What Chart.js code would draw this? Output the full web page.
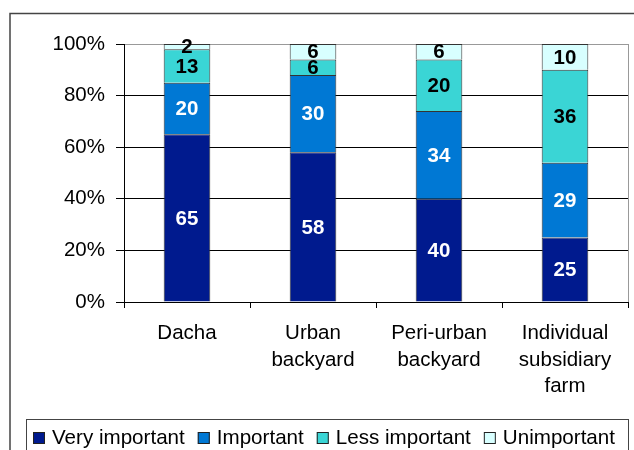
<!DOCTYPE html>
<html>
<head>
<meta charset="utf-8">
<script src="https://cdn.jsdelivr.net/npm/chart.js@4/dist/chart.umd.min.js"></script>
<style>
  html, body { margin: 0; padding: 0; background: #fff; }
  #wrap { width: 634px; height: 450px; }
</style>
</head>
<body>
<div id="wrap"><canvas id="chart" width="634" height="450"></canvas></div>
<script>
// Chart values
const categories = ['Dacha', ['Urban', 'backyard'], ['Peri-urban', 'backyard'], ['Individual', 'subsidiary', 'farm']];
const seriesNames = ['Very important', 'Important', 'Less important', 'Unimportant'];
const veryImportant = [65, 58, 40, 25];
const important = [20, 30, 34, 29];
const lessImportant = [13, 6, 20, 36];
const unimportant = [2, 6, 6, 10];
const yTicks = [0, 20, 40, 60, 80, 100];

const colors = ['#001A8E', '#0078D4', '#3AD5D5', '#D8FFFF'];
const labelColors = ['#fff', '#fff', '#000', '#000'];
const FONT = '"Liberation Sans", Arial, sans-serif';

// Draws the value inside each bar segment
const valueLabels = {
    id: 'valueLabels',
    afterDatasetsDraw(chart) {
        const ctx = chart.ctx;
        ctx.save();
        ctx.font = 'bold 20.5px ' + FONT;
        ctx.textAlign = 'center';
        ctx.textBaseline = 'middle';
        chart.data.datasets.forEach(function(ds, i) {
            chart.getDatasetMeta(i).data.forEach(function(bar, j) {
                ctx.fillStyle = labelColors[i];
                ctx.fillText(String(ds.data[j]), bar.x, (bar.y + bar.base) / 2 + 1);
            });
        });
        ctx.restore();
    }
};

// Outer frame, plot border on the right, and the boxed legend
const frame = {
    id: 'frame',
    afterDraw(chart) {
        const ctx = chart.ctx;
        const area = chart.chartArea;
        ctx.save();
        ctx.strokeStyle = '#444';
        ctx.lineWidth = 1.5;
        ctx.beginPath();
        ctx.moveTo(10, 460);
        ctx.lineTo(10, 13.5);
        ctx.lineTo(640, 13.5);
        ctx.stroke();

        ctx.strokeStyle = '#999';
        ctx.lineWidth = 1;
        ctx.beginPath();
        ctx.moveTo(area.right + 0.5, area.top);
        ctx.lineTo(area.right + 0.5, area.bottom);
        ctx.stroke();

        // legend
        ctx.strokeStyle = '#444';
        ctx.strokeRect(26.5, 419.5, 602, 40);
        ctx.font = '20.6px ' + FONT;
        ctx.textBaseline = 'middle';
        ctx.textAlign = 'left';
        let x = 33;
        const y = 438;
        chart.data.datasets.forEach(function(ds) {
            ctx.fillStyle = ds.backgroundColor;
            ctx.fillRect(x, y - 6, 12, 12);
            ctx.strokeStyle = '#222';
            ctx.strokeRect(x + 0.5, y - 5.5, 11, 11);
            ctx.fillStyle = '#000';
            ctx.fillText(ds.label, x + 19, y);
            x += 19 + ctx.measureText(ds.label).width + 13;
        });
        ctx.restore();
    }
};

const seriesData = [veryImportant, important, lessImportant, unimportant];

new Chart(document.getElementById('chart'), {
    type: 'bar',
    data: {
        labels: categories,
        datasets: seriesNames.map(function(name, i) {
            return {
                label: name,
                data: seriesData[i],
                backgroundColor: colors[i],
                borderColor: '#333',
                borderWidth: 1,
                barPercentage: 0.37,
                categoryPercentage: 1.0
            };
        })
    },
    options: {
        responsive: false,
        animation: false,
        events: [],
        layout: { padding: { left: 0, top: 44, right: 6, bottom: 0 } },
        plugins: {
            legend: { display: false },
            tooltip: { enabled: false }
        },
        scales: {
            x: {
                stacked: true,
                afterFit: function(scale) { scale.height = 148; },
                grid: {
                    offset: true,
                    drawOnChartArea: false,
                    drawTicks: true,
                    tickLength: 6,
                    tickColor: '#000'
                },
                border: { color: '#000', width: 1 },
                ticks: {
                    color: '#000',
                    padding: 12.5,
                    maxRotation: 0,
                    font: { family: FONT, size: 20.5, lineHeight: 1.28 }
                }
            },
            y: {
                stacked: true,
                min: 0,
                max: 100,
                afterFit: function(scale) { scale.width = 124; },
                afterBuildTicks: function(scale) {
                    scale.ticks = yTicks.map(function(v) { return { value: v }; });
                },
                grid: {
                    color: function(c) { return c.tick && c.tick.value === 100 ? '#999' : '#000'; },
                    tickColor: '#000',
                    tickLength: 8
                },
                border: { color: '#000', width: 1 },
                ticks: {
                    color: '#000',
                    padding: 11,
                    font: { family: FONT, size: 20.5 },
                    callback: function(v) { return v + '%'; }
                }
            }
        }
    },
    plugins: [valueLabels, frame]
});
</script>
</body>
</html>
